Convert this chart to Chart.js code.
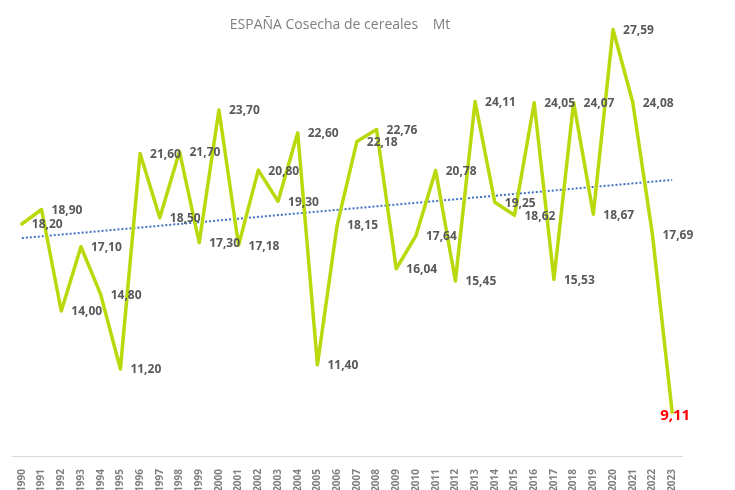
<!DOCTYPE html>
<html>
<head>
<meta charset="utf-8">
<title>ESPAÑA Cosecha de cereales</title>
<script src="https://cdn.jsdelivr.net/npm/chart.js@4/dist/chart.umd.min.js"></script>
<style>
    html, body { margin: 0; padding: 0; background: #ffffff; }
    #wrap { width: 735px; height: 490px; }
</style>
</head>
<body>
<div id="wrap"><canvas id="myChart"></canvas></div>
<script>
var chartTitle = 'ESPAÑA Cosecha de cereales    Mt';

var years = ['1990', '1991', '1992', '1993', '1994', '1995', '1996', '1997', '1998', '1999',
    '2000', '2001', '2002', '2003', '2004', '2005', '2006', '2007', '2008', '2009',
    '2010', '2011', '2012', '2013', '2014', '2015', '2016', '2017', '2018', '2019',
    '2020', '2021', '2022', '2023'];

// cereal harvest, million tonnes
var harvest = [18.20, 18.90, 14.00, 17.10, 14.80, 11.20, 21.60, 18.50, 21.70, 17.30,
    23.70, 17.18, 20.80, 19.30, 22.60, 11.40, 18.15, 22.18, 22.76, 16.04,
    17.64, 20.78, 15.45, 24.11, 19.25, 18.62, 24.05, 15.53, 24.07, 18.67,
    27.59, 24.08, 17.69, 9.11];

// linear trend line (first and last year)
var trendStart = 17.52;
var trendEnd = 20.33;

var yMin = 7;
var yMax = 28;

window.onload = function () {
    var trend = years.map(function (y, i) {
        if (i === 0) return trendStart;
        if (i === years.length - 1) return trendEnd;
        return null;
    });

    // draws the title where the original sits, over the plot area
    var titlePlugin = {
        id: 'titleText',
        afterDraw: function (chart) {
            var ctx = chart.ctx;
            ctx.save();
            ctx.font = '14px "Open Sans"';
            ctx.fillStyle = '#7f7f7f';
            ctx.textAlign = 'center';
            ctx.textBaseline = 'middle';
            ctx.fillText(chartTitle, 340, 25);
            ctx.restore();
        }
    };

    // value labels to the right of each point, last one in red on the point
    var labelPlugin = {
        id: 'valueLabels',
        afterDatasetsDraw: function (chart) {
            var ctx = chart.ctx;
            var meta = chart.getDatasetMeta(0);
            ctx.save();
            meta.data.forEach(function (pt, i) {
                var txt = harvest[i].toFixed(2).replace('.', ',');
                if (i === harvest.length - 1) {
                    ctx.font = 'bold 15px "Open Sans"';
                    ctx.fillStyle = '#ff0000';
                    ctx.textAlign = 'center';
                    ctx.textBaseline = 'middle';
                    ctx.fillText(txt, pt.x + 3, pt.y + 3);
                } else {
                    ctx.font = 'bold 12px "Open Sans"';
                    ctx.fillStyle = '#595959';
                    ctx.textAlign = 'left';
                    ctx.textBaseline = 'middle';
                    ctx.fillText(txt, pt.x + 10, pt.y + 1);
                }
            });
            ctx.restore();
        }
    };

    var ctx = document.getElementById('myChart').getContext('2d');
    var myChart = new Chart(ctx, {
        type: 'line',
        data: {
            labels: years,
            datasets: [{
                label: 'Cosecha',
                data: harvest,
                borderColor: '#bad80a',
                borderWidth: 3.5,
                borderJoinStyle: 'round',
                borderCapStyle: 'round',
                tension: 0,
                pointRadius: 0,
                fill: false,
                order: 1
            },
            {
                label: 'Tendencia',
                data: trend,
                borderColor: '#4472c4',
                borderWidth: 2,
                borderDash: [2, 2],
                spanGaps: true,
                pointRadius: 0,
                fill: false,
                order: 2
            }]
        },
        options: {
            responsive: true,
            maintainAspectRatio: false,
            animation: false,
            layout: {
                padding: { left: 12, right: 53, top: 21, bottom: 0 }
            },
            plugins: {
                legend: { display: false },
                title: { display: false },
                tooltip: { enabled: false }
            },
            scales: {
                x: {
                    offset: true,
                    grid: { display: false },
                    border: { color: '#d9d9d9', width: 1 },
                    afterFit: function (scale) {
                        scale.height = 34;
                    },
                    ticks: {
                        autoSkip: false,
                        minRotation: 90,
                        maxRotation: 90,
                        padding: 5,
                        color: '#808080',
                        font: { family: '"Open Sans"', size: 10, weight: 'bold' }
                    }
                },
                y: {
                    display: false,
                    min: yMin,
                    max: yMax
                }
            }
        },
        plugins: [titlePlugin, labelPlugin]
    });
};
</script>
</body>
</html>
